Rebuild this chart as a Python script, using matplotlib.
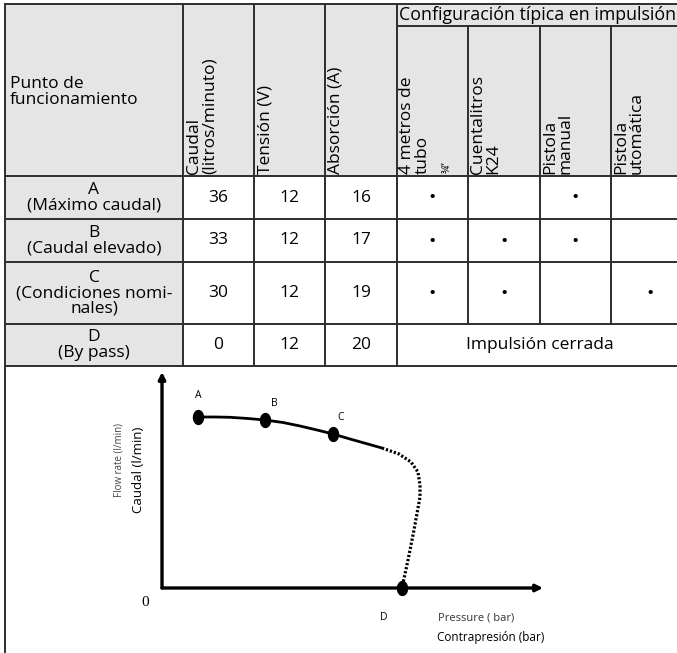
import matplotlib.pyplot as plt
import numpy as np
from matplotlib.patches import Rectangle

plt.rcParams['font.family'] = ['Open Sans', 'DejaVu Sans']

# table contents
points = ['A', 'B', 'C', 'D']
point_names = ['(Máximo caudal)', '(Caudal elevado)', '(Condiciones nomi-\nnales)', '(By pass)']
caudal = [36, 33, 30, 0]
tension = [12, 12, 12, 12]
absorcion = [16, 17, 19, 20]
header_first = 'Punto de\nfuncionamiento'
header_cols = ['Caudal\n(litros/minuto)', 'Tensión (V)', 'Absorción (A)']
config_title = 'Configuración típica en impulsión'
config_cols = ['4 metros de\ntubo', 'Cuentalitros\nK24', 'Pistola\nmanual', 'Pistola\nutomática']
config_marks = [[1, 0, 1, 0],
                [1, 1, 1, 0],
                [1, 1, 0, 1]]
bypass_text = 'Impulsión cerrada'

# schematic pump curve (arbitrary units)
solid_p = [0.945, 1.391, 1.785, 2.257, 2.703, 3.176, 3.622, 4.068, 4.488, 4.934, 5.354, 5.774]
solid_q = [7.917, 7.917, 7.903, 7.847, 7.778, 7.662, 7.500, 7.315, 7.130, 6.898, 6.690, 6.481]
dotted_p = [5.774, 6.220, 6.535, 6.719, 6.772, 6.772, 6.614, 6.457, 6.299]
dotted_q = [6.481, 6.204, 5.833, 5.370, 4.769, 4.213, 2.685, 1.296, 0.0]
op_p = [0.945, 2.703, 4.488, 6.299]
op_q = [7.917, 7.778, 7.130, 0.0]

W, H = 677, 653
fig = plt.figure(figsize=(W / 100, H / 100), dpi=100)
ax = fig.add_axes([0, 0, 1, 1])
ax.set_xlim(0, W)
ax.set_ylim(H, 0)
ax.axis('off')

# layout of the grid (pixels)
col_x = [5, 183, 254, 325, 397, 468, 540, 611, 690]
row_y = [4, 176, 219, 262, 324, 366]
sub_y = 26
lc = '#2e2e2e'
lw = 1.4
gray = '#e5e5e5'

ax.add_patch(Rectangle((col_x[0], row_y[0]), col_x[-1] - col_x[0], row_y[1] - row_y[0],
                       fc=gray, ec='none'))
ax.add_patch(Rectangle((col_x[0], row_y[1]), col_x[1] - col_x[0], row_y[-1] - row_y[1],
                       fc=gray, ec='none'))

for y in row_y:
    ax.plot([col_x[0], col_x[-1]], [y, y], color=lc, lw=lw)
ax.plot([col_x[4], col_x[-1]], [sub_y, sub_y], color=lc, lw=lw)
for x in col_x[:5]:
    ax.plot([x, x], [row_y[0], row_y[-1]], color=lc, lw=lw)
for x in col_x[5:8]:
    ax.plot([x, x], [sub_y, row_y[-2]], color=lc, lw=lw)
ax.plot([col_x[0], col_x[0]], [row_y[-1], H], color=lc, lw=lw)

fs = 12.5
# header
ax.text(10, 92, header_first, ha='left', va='center', fontsize=fs, linespacing=1.0)
for i, lab in enumerate(header_cols):
    ax.text(col_x[i + 1] + 3, 174, lab, rotation=90, ha='left', va='bottom',
            fontsize=fs, linespacing=0.95)
ax.text(col_x[4] + 2, 15, config_title, ha='left', va='center', fontsize=12.8)
for i, lab in enumerate(config_cols):
    ax.text(col_x[i + 4] + 2, 174, lab, rotation=90, ha='left', va='bottom',
            fontsize=fs, linespacing=0.95)
ax.text(col_x[4] + 45, 173, '¾”', rotation=90, ha='left', va='bottom', fontsize=7.5)

# body
for r in range(4):
    yc = (row_y[r + 1] + row_y[r + 2]) / 2
    ax.text((col_x[0] + col_x[1]) / 2, yc, points[r] + '\n' + point_names[r],
            ha='center', va='center', fontsize=fs, linespacing=0.95)
    for c, vals in enumerate([caudal, tension, absorcion]):
        ax.text((col_x[c + 1] + col_x[c + 2]) / 2, yc, str(vals[r]),
                ha='center', va='center', fontsize=fs)
    if r < 3:
        for c in range(4):
            if config_marks[r][c]:
                ax.text((col_x[c + 4] + col_x[c + 5]) / 2, yc + 1, '•',
                        ha='center', va='center', fontsize=14)
    else:
        ax.text(540, yc, bypass_text, ha='center', va='center', fontsize=fs)

# schematic chart
x0, y0, x1, y1 = 162, 588, 543, 372
cax = fig.add_axes([x0 / W, (H - y0) / H, (x1 - x0) / W, (y0 - y1) / H])
cax.set_xlim(0, 10)
cax.set_ylim(0, 10)
cax.axis('off')
cax.annotate('', xy=(1.0, 0), xytext=(0, 0), xycoords='axes fraction',
             arrowprops=dict(arrowstyle='-|>', lw=2.4, color='black',
                             mutation_scale=10, shrinkA=0, shrinkB=0))
cax.annotate('', xy=(0, 1.0), xytext=(0, 0), xycoords='axes fraction',
             arrowprops=dict(arrowstyle='-|>', lw=2.4, color='black',
                             mutation_scale=10, shrinkA=0, shrinkB=0))

cax.plot(solid_p, solid_q, color='black', lw=2.0, solid_capstyle='butt',
         solid_joinstyle='round')
cax.plot(dotted_p, dotted_q, color='black', lw=2.3, linestyle=(0, (0.7, 0.6)))

t = np.linspace(0, 2 * np.pi, 40)
ellipse = np.column_stack([0.72 * np.cos(t), np.sin(t)])
cax.plot(op_p, op_q, linestyle='none', marker=ellipse, markersize=10,
         color='black', clip_on=False, zorder=5)

offsets = [(0, 21), (9, 16), (8, 16), (-18, -30)]
for name, p, q, off in zip(points, op_p, op_q, offsets):
    cax.annotate(name, xy=(p, q), xytext=(off[0], off[1]), textcoords='offset pixels',
                 ha='center', va='center', fontsize=7.5, annotation_clip=False)

ax.text(119, 460, 'Flow rate (l/min)', rotation=90, ha='center', va='center',
        fontsize=7, color='#444444')
ax.text(139, 470, 'Caudal (l/min)', rotation=90, ha='center', va='center', fontsize=9.5)
ax.text(145, 603, '0', ha='center', va='center', fontsize=11,
        family=['Liberation Serif', 'DejaVu Serif'])
ax.text(438, 618, 'Pressure ( bar)', ha='left', va='center', fontsize=8, color='#333333')
ax.text(437, 637, 'Contrapresión (bar)', ha='left', va='center', fontsize=8.5)

fig.savefig('out.png', dpi=100)
